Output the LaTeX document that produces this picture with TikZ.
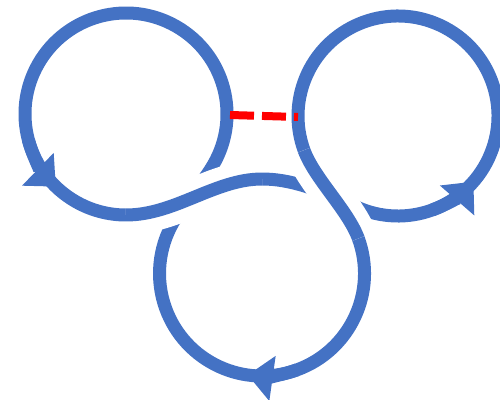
\documentclass[tikz,border=0pt]{standalone}
\usepackage{tikz}
\usetikzlibrary{arrows.meta,calc}
\definecolor{knotBlue}{RGB}{68,114,196}
\definecolor{knotRed}{RGB}{255,0,0}
\begin{document}
\begin{tikzpicture}[x=0.02cm,y=0.02cm,
  strand/.style={knotBlue,line width=0.26cm},
  halo/.style={white,line width=0.78cm},
  tip/.style={-{Triangle[width=0.88cm,length=0.5cm]}}]
  \useasboundingbox (0,0) rectangle (500,399);
  \coordinate (L) at (126,285);
  \coordinate (R) at (398,283);
  \coordinate (B) at (262,125.5);
  \coordinate (waveTop) at (262,220);
  \coordinate (gapL) at (230,284);
  \coordinate (gapR) at (298,282);
  \draw[strand,line join=round] ($(L)+(-30:101)$) arc[start angle=-30,end angle=270,radius=101]
    .. controls +(49,0) and (215,220) .. (waveTop)
    .. controls (290,220) and (318,210) .. ($(R)+(245:100)$)
    arc[start angle=245,end angle=560,radius=100]
    .. controls +(10.3,-28.2) and (348,188.8) .. ($(B)+(20:102.5)$)
    arc[start angle=20,end angle=-210,radius=102.5]
    .. controls +(10,17.3) and (203.5,217.2) .. cycle;
  \draw[halo] ($(L)+(270:101)$) .. controls +(49,0) and (215,220) .. (waveTop);
  \draw[strand] ($(L)+(270:101)$) .. controls +(49,0) and (215,220) .. (waveTop);
  \draw[halo] ($(R)+(200:100)$) .. controls +(10.3,-28.2) and (348,188.8) .. ($(B)+(20:102.5)$);
  \draw[strand] ($(R)+(200:100)$) .. controls +(10.3,-28.2) and (348,188.8) .. ($(B)+(20:102.5)$);
  \foreach \c/\r/\a/\b in {L/101/195/226, B/102.5/-70/-98, R/100/-70/-41}
    \draw[strand,tip] ($(\c)+(\a:\r)$) arc[start angle=\a,end angle=\b,radius=\r];
  \draw[knotRed,line width=0.16cm,dash pattern=on 0.48cm off 0.16cm] (gapL) -- (gapR);
\end{tikzpicture}
\end{document}
